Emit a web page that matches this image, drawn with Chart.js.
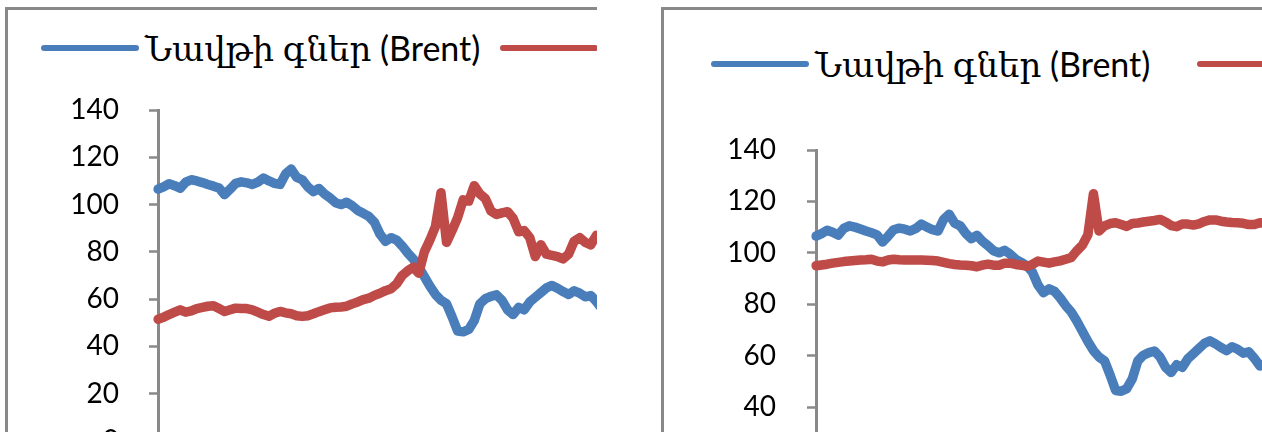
<!DOCTYPE html>
<html lang="hy">
<head>
<meta charset="utf-8">
<title>Նավթի գներ (Brent)</title>
<script src="https://cdn.jsdelivr.net/npm/chart.js@4.4.1/dist/chart.umd.min.js"></script>
<style>
    body {
        margin: 0;
        width: 1262px;
        height: 432px;
        overflow: hidden;
        position: relative;
        background: #fff;
        font-family: Lato, "DejaVu Serif", "DejaVu Sans", sans-serif;
    }
    .panel {
        position: absolute;
        top: 0;
        height: 432px;
        overflow: hidden;
        background: #fff;
    }
    #leftPanel { left: 0; width: 597px; }
    #rightPanel { left: 640px; width: 622px; }
    .frame {
        position: absolute;
        width: 1200px;
        height: 800px;
        border: 3px solid #898989;
    }
    #leftPanel .frame { left: 5px; top: 7px; }
    #rightPanel .frame { left: 21px; top: 7px; }
    .chart-box { position: absolute; left: 0; top: 0; }
    .legend {
        position: absolute;
        display: flex;
        align-items: center;
        height: 40px;
        white-space: nowrap;
        font-size: 34px;
        color: #000;
    }
    .legend-item { display: flex; align-items: center; }
    .swatch {
        width: 98px;
        height: 6px;
        border-radius: 3px;
        margin-right: 6px;
    }
</style>
</head>
<body>

<div class="panel" id="leftPanel">
    <div class="frame"></div>
    <div class="legend" id="leftLegend" style="left:41px; top:28px;"></div>
    <div class="chart-box" style="width:623px; height:491px;">
        <canvas id="leftChart" width="623" height="491"></canvas>
    </div>
</div>

<div class="panel" id="rightPanel">
    <div class="frame"></div>
    <div class="legend" id="rightLegend" style="left:71px; top:44px;"></div>
    <div class="chart-box" style="width:641px; height:560px;">
        <canvas id="rightChart" width="641" height="560"></canvas>
    </div>
</div>

<script>
// Weekly observations (Fridays), Jan 2014 - Jul 2015
const weeks = [
    '03.01.14', '10.01.14', '17.01.14', '24.01.14', '31.01.14',
    '07.02.14', '14.02.14', '21.02.14', '28.02.14',
    '07.03.14', '14.03.14', '21.03.14', '28.03.14',
    '04.04.14', '11.04.14', '18.04.14', '25.04.14',
    '02.05.14', '09.05.14', '16.05.14', '23.05.14', '30.05.14',
    '06.06.14', '13.06.14', '20.06.14', '27.06.14',
    '04.07.14', '11.07.14', '18.07.14', '25.07.14',
    '01.08.14', '08.08.14', '15.08.14', '22.08.14', '29.08.14',
    '05.09.14', '12.09.14', '19.09.14', '26.09.14',
    '03.10.14', '10.10.14', '17.10.14', '24.10.14', '31.10.14',
    '07.11.14', '14.11.14', '21.11.14', '28.11.14',
    '05.12.14', '12.12.14', '19.12.14', '26.12.14',
    '02.01.15', '09.01.15', '16.01.15', '23.01.15', '30.01.15',
    '06.02.15', '13.02.15', '20.02.15', '27.02.15',
    '06.03.15', '13.03.15', '20.03.15', '27.03.15',
    '03.04.15', '10.04.15', '17.04.15', '24.04.15',
    '01.05.15', '08.05.15', '15.05.15', '22.05.15', '29.05.15',
    '05.06.15', '12.06.15', '19.06.15', '26.06.15',
    '03.07.15', '10.07.15', '17.07.15', '24.07.15', '31.07.15'
];

// Brent, USD per barrel
const brentPrice = [
    106.5, 107.5, 108.8, 108, 106.9, 109.5, 110.5, 110, 109.3, 108.5,
    107.8, 107, 104.2, 106.5, 109, 109.6, 109.2, 108.5, 109.5, 111.2,
    110, 109, 108.5, 113, 115, 111.5, 110.5, 107.5, 105.5, 106.8,
    104.5, 102.8, 100.8, 100, 101, 99.5, 97.5, 96.3, 95, 92.5,
    87.5, 84.5, 86, 85, 82.5, 79.5, 77, 73.5, 69.5, 65.5,
    62, 59.5, 58, 52.5, 46.5, 46.2, 47.2, 51, 58, 60.2,
    61.2, 61.8, 59.5, 55.5, 53.5, 56.5, 55.5, 58.8, 60.8, 62.8,
    64.8, 65.8, 64.6, 63.2, 62, 63.5, 62.5, 61, 61.5, 59,
    56, 57, 57
];

// Left chart, second series
const rubRate = [
    51.5, 52.3, 53.5, 54.5, 55.5, 54.5, 55, 56, 56.5, 57,
    57.2, 56, 54.8, 55.5, 56.2, 56, 56, 55.5, 54.5, 53.5,
    52.8, 54, 54.8, 54.2, 53.8, 53, 52.7, 53, 53.8, 54.7,
    55.5, 56.3, 56.6, 56.7, 57, 58, 58.8, 59.8, 60.4, 61.6,
    62.5, 63.6, 64.4, 66.5, 70, 72, 73.5, 71, 80, 85,
    90.7, 105, 84, 89, 94.5, 102, 101.5, 108, 104.5, 102.5,
    97.3, 95.8, 96.5, 97, 94.2, 88.5, 89, 86, 78, 83,
    79, 78.5, 78, 77, 79, 84.5, 86, 84, 83, 87,
    86, 86, 86
];

// Right chart, second series
const amdRate = [
    95, 95.3, 95.6, 96, 96.3, 96.6, 96.8, 97, 97.2, 97.3,
    97.5, 96.8, 96.5, 97.2, 97.5, 97.3, 97.2, 97.2, 97.2, 97.2,
    97.1, 97, 96.8, 96.3, 95.8, 95.5, 95.3, 95.2, 95, 94.6,
    95.2, 95.6, 95.2, 95.2, 96, 96, 95.5, 95.2, 94.8, 95.5,
    96.8, 96.4, 96, 96.5, 96.9, 97.5, 98.2, 100.8, 103, 107,
    123, 108.5, 110.5, 111.4, 111.7, 111, 110.3, 111.4, 111.6, 112,
    112.3, 112.6, 113, 112, 110.6, 110.2, 111.2, 111.2, 110.8, 111.3,
    112.2, 112.8, 112.8, 112.3, 112, 111.8, 111.7, 111.5, 111, 111,
    111.7, 111.5, 111.5
];

const yTicks = { min: 0, max: 140, step: 20 };

const BLUE = '#4A7EBB';
const RED = '#BE4B48';
const AXIS_GREY = '#898989';

// Build a line chart with the y axis drawn Excel-style
function makeChart(canvasId, secondLabel, secondValues, layout) {
    const ctx = document.getElementById(canvasId).getContext('2d');

    return new Chart(ctx, {
        type: 'line',
        data: {
            labels: weeks,
            datasets: [{
                label: 'Նավթի գներ (Brent)',
                data: brentPrice,
                borderColor: BLUE,
                order: 1
            }, {
                label: secondLabel,
                data: secondValues,
                borderColor: RED,
                order: 0
            }]
        },
        options: {
            responsive: false,
            animation: false,
            devicePixelRatio: 1,
            layout: {
                // bottom must stay above tick padding + half a label
                padding: { top: layout.top, bottom: 50, left: 0, right: 10 }
            },
            elements: {
                line: {
                    borderWidth: 9.5,
                    tension: 0,
                    borderJoinStyle: 'round',
                    borderCapStyle: 'round'
                },
                point: { radius: 0 }
            },
            plugins: {
                legend: { display: false },
                tooltip: { enabled: false }
            },
            scales: {
                x: { display: false, offset: false },
                y: {
                    min: yTicks.min,
                    max: yTicks.max,
                    ticks: {
                        stepSize: yTicks.step,
                        padding: layout.tickPad,
                        color: '#000',
                        font: { family: 'Lato', size: 28 }
                    },
                    grid: {
                        drawOnChartArea: false,
                        drawTicks: true,
                        tickLength: 9,
                        tickColor: AXIS_GREY,
                        tickWidth: 2.5
                    },
                    border: { color: AXIS_GREY, width: 3 },
                    afterFit: scale => { scale.width = layout.axisWidth; }
                }
            }
        }
    });
}

// Legend as html, taken from the chart datasets
function buildLegend(chart, elId, gap) {
    const box = document.getElementById(elId);
    chart.data.datasets.forEach((ds, i) => {
        const item = document.createElement('div');
        item.className = 'legend-item';
        if (i > 0) item.style.marginLeft = gap + 'px';
        const swatch = document.createElement('span');
        swatch.className = 'swatch';
        swatch.style.background = ds.borderColor;
        const text = document.createElement('span');
        text.textContent = ds.label;
        item.appendChild(swatch);
        item.appendChild(text);
        box.appendChild(item);
    });
}

function initCharts() {
    const left = makeChart('leftChart', 'ՌԴ ռուբլու փոխարժեք', rubRate,
        { top: 110, axisWidth: 158, tickPad: 30 });
    const right = makeChart('rightChart', 'ՀՀ դրամի փոխարժեք', amdRate,
        { top: 150, axisWidth: 176, tickPad: 31 });

    buildLegend(left, 'leftLegend', 20);
    buildLegend(right, 'rightLegend', 47);
}

initCharts();
</script>
</body>
</html>
